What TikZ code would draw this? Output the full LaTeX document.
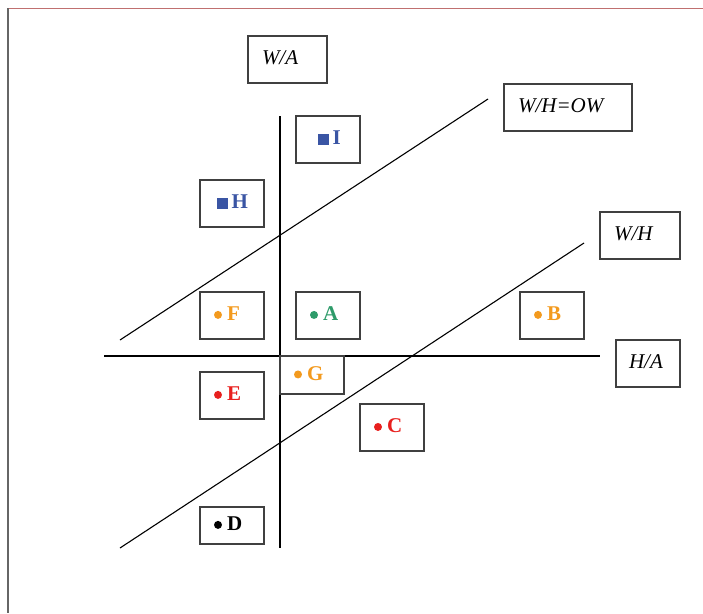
\documentclass[tikz,border=0pt]{standalone}
\usepackage{fontspec}
\setmainfont{Liberation Serif}
\definecolor{orng}{HTML}{F39A1E}
\definecolor{grn}{HTML}{2E9B6A}
\definecolor{rd}{HTML}{E8201E}
\definecolor{blu}{HTML}{3A55A4}
\definecolor{bxline}{HTML}{404040}
\definecolor{topline}{HTML}{C07070}
\newcommand{\up}[1]{\raisebox{3pt}{#1}}
\newcommand{\dotlab}[2]{\up{\textcolor{#1}{\tikz[x=1pt,y=1pt,baseline=-6pt]\fill[#1] (0,0) circle[radius=4pt];\hspace{5pt}\textbf{#2}}}}
\newcommand{\sqlab}[2]{\up{\textcolor{#1}{\textbf{\rule{11pt}{11pt}\,#2}}}}
\begin{document}
\begin{tikzpicture}[x=1pt,y=-1pt,
  bx/.style={draw=bxline, line width=1.2pt, rectangle, inner ysep=0pt, inner xsep=14pt, align=left},
  ital/.style={font=\fontsize{21}{24}\selectfont\itshape},
  bld/.style={font=\fontsize{21}{24}\selectfont},
  axis/.style={line width=1.2pt, black},
  diag/.style={line width=1.1pt, black}]
\useasboundingbox (0,0) rectangle (703,613);
% frame
\draw[topline, line width=1pt] (7,8) -- (703,8);
\draw[bxline!80, line width=1.3pt] (8,8) -- (8,613);
% lines
\coordinate (vt) at (280,116);
\coordinate (vb) at (280,548);
\coordinate (hl) at (104,356);
\coordinate (hr) at (600,356);
\coordinate (d1a) at (120,340);
\coordinate (d1b) at (488,99);
\coordinate (d2a) at (120,548);
\coordinate (d2b) at (584,243);
\draw[axis] (vt) -- (vb);
\draw[axis] (hl) -- (hr);
\draw[diag] (d1a) -- (d1b);
\draw[diag] (d2a) -- (d2b);
% label boxes
\node[bx, ital, text width=51pt, minimum height=47pt] (WA) at (287.5,59.5) {\up{W/A}};
\node[bx, ital, text width=100pt, minimum height=47pt] (WHOW) at (568,107.5) {\up{W/H=OW}};
\node[bx, ital, text width=52pt, minimum height=47pt] (WH) at (640,235.5) {\up{W/H}};
\node[bx, ital, inner xsep=13pt, text width=38pt, minimum height=47pt] (HA) at (648,363.5) {\up{H/A}};
% point boxes
\node[bx, bld, inner xsep=22pt, text width=20pt, minimum height=47pt] (I) at (328,139.5) {\sqlab{blu}{I}};
\node[bx, bld, inner xsep=17pt, text width=30pt, minimum height=47pt] (H) at (232,203.5) {\sqlab{blu}{H}};
\node[bx, bld, text width=36pt, minimum height=47pt] (F) at (232,315.5) {\dotlab{orng}{F}};
\node[bx, bld, text width=36pt, minimum height=47pt] (A) at (328,315.5) {\dotlab{grn}{A}};
\node[bx, bld, text width=36pt, minimum height=47pt] (B) at (552,315.5) {\dotlab{orng}{B}};
\node[bx, bld, text width=36pt, minimum height=38pt, fill=white] (G) at (312,375) {\dotlab{orng}{G}};
\node[bx, bld, text width=36pt, minimum height=47pt] (E) at (232,395.5) {\dotlab{rd}{E}};
\node[bx, bld, text width=36pt, minimum height=47pt] (C) at (392,427.5) {\dotlab{rd}{C}};
\node[bx, bld, text width=36pt, minimum height=37pt] (D) at (232,525.5) {\dotlab{black}{D}};
\end{tikzpicture}
\end{document}
